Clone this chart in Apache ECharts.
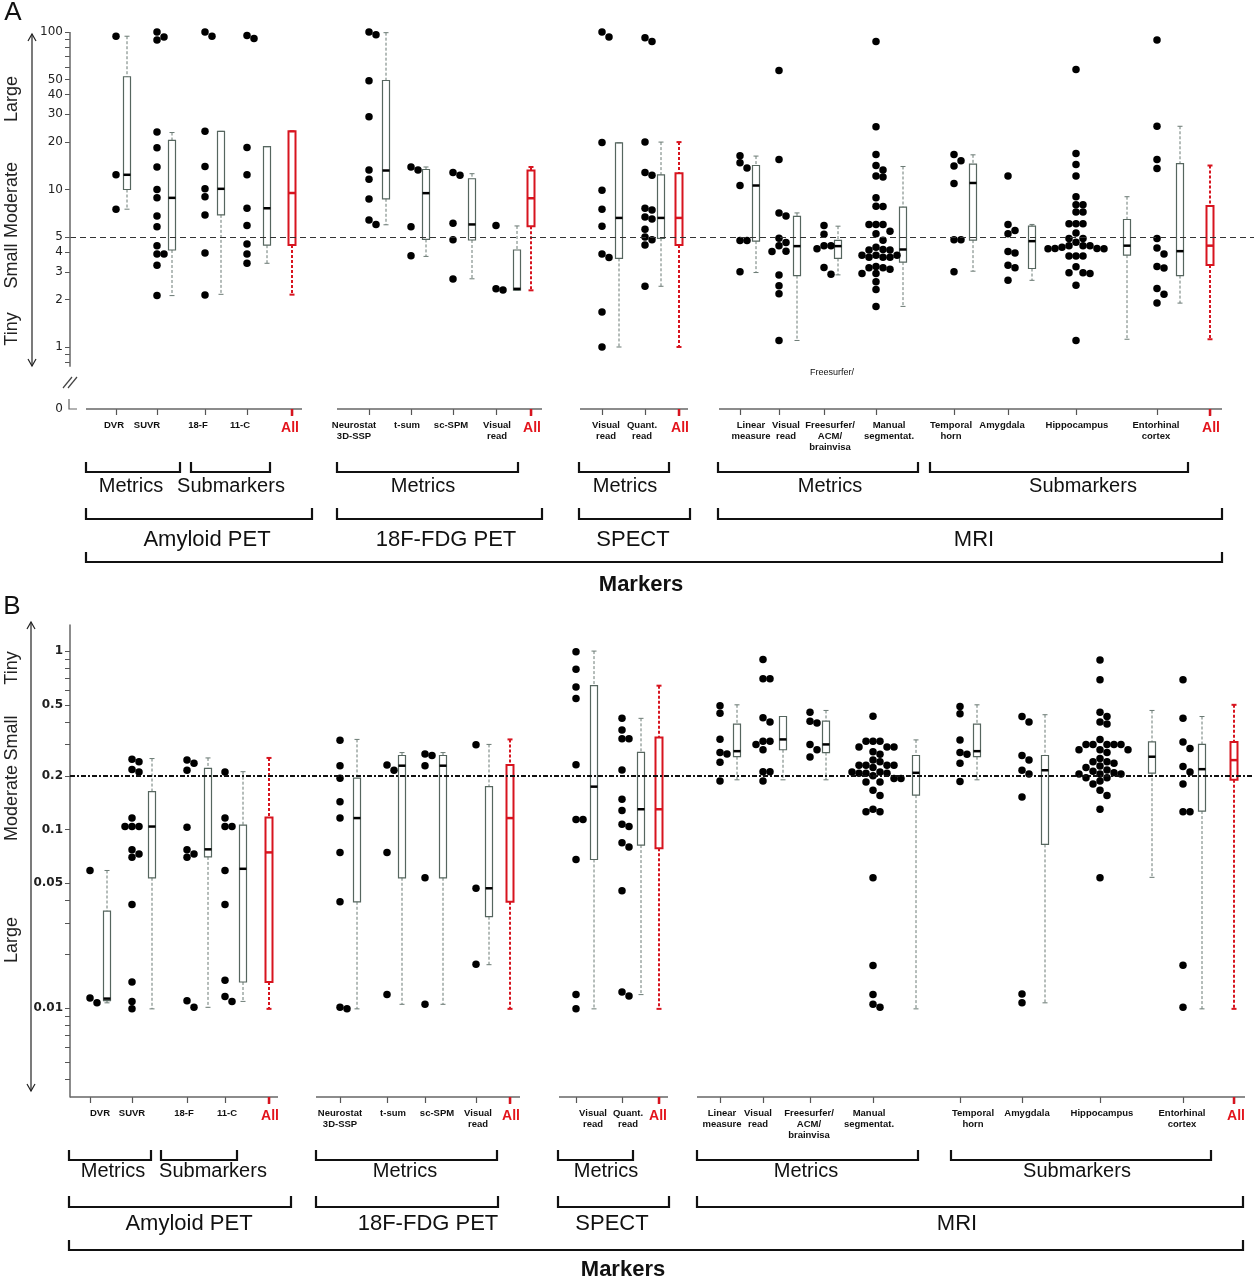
<!DOCTYPE html>
<html><head><meta charset="utf-8">
<script src="https://cdn.jsdelivr.net/npm/echarts@6/dist/echarts.min.js"></script>
<style>html,body{margin:0;padding:0;background:#fff}#c{width:1254px;height:1280px}</style>
</head><body><div id="c"></div>
<script>
// ================= DATA =================
const categories = ['DVR','SUVR','18-F','11-C','All','Neurostat\n3D-SSP','t-sum','sc-SPM','Visual\nread','All',
  'Visual\nread','Quant.\nread','All','Linear\nmeasure','Visual\nread','Freesurfer/\nACM/\nbrainvisa','Manual\nsegmentat.',
  'Temporal\nhorn','Amygdala','Hippocampus','Entorhinal\ncortex','All'];

// Panel A (effect size, log scale) tick labels
const yTickLabelsA = [1,2,3,4,5,10,20,30,40,50,100];
const yMinorTicksA = [0.8,0.9,60,70,80,90];
// Panel B tick labels
const yTickLabelsB = [0.01,0.05,0.1,0.2,0.5,1];
const yMinorTicksB = [0.004,0.005,0.006,0.007,0.008,0.009,0.02,0.03,0.04,0.3,0.4,0.6,0.7,0.8,0.9];

// Panel A individual study values
const dotsA = [
  [94,12.4,7.5],
  [100,93,89,23.2,18.4,13.9,10,8.85,6.8,5.8,4.4,3.9,3.9,3.3,2.12],
  [94,100,23.4,14,10.1,9,6.9,3.95,2.14],
  [91,95,18.5,12.4,7.6,5.9,4.5,3.9,3.4],
  [],
  [96,100,49,29,13.3,11.6,8.7,6.0,6.4],
  [13.3,13.9,5.8,3.8],
  [12.8,12.3,6.1,4.8,2.7],
  [5.9,2.34,2.3],
  [],
  [100,93,19.9,9.9,7.5,5.85,3.7,3.9,1.67,1.0],
  [92,87,20,12.8,12.3,7.4,7.6,6.7,6.5,5.6,4.8,5.0,4.45,2.43],
  [],
  [16.4,13.7,14.8,10.6,4.74,4.74,3.0],
  [57,15.5,6.8,7.1,4.4,4.9,4.6,4.06,4.04,2.87,2.45,2.18,1.1],
  [5.9,5.2,4.2,4.4,4.4,3.2,2.9],
  [87,25,16.7,14.2,13.3,12.0,12.2,8.85,7.84,7.8,6.0,6.0,6.0,5.44,5.23,4.77,4.3,4.16,4.13,4.13,3.83,3.83,3.83,3.72,3.72,3.72,3.25,3.18,3.18,3.12,2.93,2.93,2.6,2.32,1.81],
  [16.7,14.1,15.2,10.9,4.8,4.8,3.0],
  [12.2,6.0,5.5,5.24,4.04,3.95,3.31,3.18,2.65],
  [57.8,16.9,14.4,12.2,9.0,8.0,8.0,7.2,7.2,6.05,6.05,6.05,5.3,4.88,4.88,4.63,4.22,4.3,4.22,4.2,4.2,4.4,4.4,4.4,3.78,3.78,3.78,3.23,2.96,2.96,2.93,2.47,1.1],
  [89,25.2,15.5,13.6,4.88,4.25,3.9,3.17,3.25,2.16,2.35,1.9],
  []
];
// Panel A box stats [whiskerLow, Q1, median, Q3, whiskerHigh]
const boxStatsA = [
  [7.5,10,12.4,52,94],[2.12,4.13,8.85,20.5,23],[2.16,6.9,10.1,23.4,23.4],[3.4,4.43,7.6,18.7,18.7],[2.15,4.45,9.5,23.4,23.4],
  [5.97,8.73,13.2,49.2,99],[3.76,4.82,9.48,13.4,13.9],[2.71,4.78,6.0,11.7,12.6],[2.3,2.3,2.34,4.13,5.87],[2.29,5.84,8.8,13.2,13.9],
  [1.0,3.65,6.6,19.8,19.8],[2.43,4.9,6.6,12.4,20],[1.0,4.45,6.6,12.7,20],
  [2.97,4.7,10.6,14.2,16.3],[1.1,2.84,4.37,6.75,7.1],[2.87,3.65,4.37,4.76,5.85],[1.81,3.46,4.16,7.73,14.0],
  [3.03,4.77,11.0,14.5,16.6],[2.65,3.15,4.7,5.85,6.0],[1.12,3.83,4.4,6.45,9.0],[1.9,2.84,4.06,14.6,25.2],[1.12,3.32,4.4,7.86,14.2]
];

// Panel B individual study values
const dotsB = [
  [0.0107,0.0114,0.059],
  [0.248,0.24,0.217,0.21,0.116,0.104,0.104,0.104,0.073,0.077,0.070,0.038,0.014,0.0109,0.0099],
  [0.215,0.245,0.235,0.103,0.073,0.077,0.07,0.011,0.0101],
  [0.21,0.116,0.104,0.104,0.059,0.038,0.0143,0.0109,0.0116],
  [],
  [0.317,0.228,0.194,0.143,0.116,0.0745,0.0394,0.0101,0.0099],
  [0.23,0.215,0.0745,0.0119],
  [0.26,0.265,0.228,0.0537,0.0105],
  [0.299,0.0469,0.0176],
  [],
  [0.99,0.79,0.63,0.543,0.231,0.114,0.114,0.068,0.0119,0.0099],
  [0.42,0.361,0.323,0.323,0.216,0.148,0.128,0.107,0.104,0.0844,0.08,0.0454,0.0117,0.0123],
  [],
  [0.494,0.448,0.321,0.27,0.265,0.238,0.187],
  [0.898,0.70,0.70,0.423,0.40,0.313,0.313,0.30,0.28,0.211,0.211,0.187],
  [0.455,0.405,0.395,0.30,0.28,0.255],
  [0.432,0.313,0.313,0.313,0.29,0.29,0.29,0.273,0.264,0.245,0.24,0.229,0.229,0.229,0.229,0.223,0.21,0.21,0.207,0.207,0.207,0.2,0.193,0.193,0.185,0.185,0.166,0.155,0.13,0.126,0.126,0.0537,0.0173,0.0119,0.0105,0.0101],
  [0.49,0.445,0.318,0.27,0.264,0.235,0.186],
  [0.43,0.40,0.26,0.245,0.215,0.205,0.152,0.012,0.0107],
  [0.89,0.69,0.455,0.43,0.40,0.39,0.32,0.30,0.30,0.30,0.30,0.30,0.28,0.28,0.28,0.27,0.25,0.24,0.24,0.235,0.227,0.223,0.216,0.212,0.208,0.205,0.205,0.205,0.195,0.195,0.187,0.18,0.166,0.155,0.13,0.0537],
  [0.69,0.42,0.31,0.285,0.226,0.21,0.18,0.126,0.126,0.0174,0.0101],
  []
];
const boxStatsB = [
  [0.0107,0.011,0.0113,0.0349,0.059],[0.0099,0.0537,0.104,0.163,0.25],[0.0101,0.0703,0.0775,0.22,0.252],[0.0109,0.014,0.0603,0.106,0.211],[0.0099,0.014,0.0745,0.117,0.252],
  [0.0099,0.0394,0.116,0.194,0.32],[0.0105,0.0537,0.228,0.26,0.27],[0.0105,0.0537,0.228,0.26,0.27],[0.0175,0.0325,0.0469,0.174,0.30],[0.0099,0.0394,0.116,0.23,0.32],
  [0.0099,0.068,0.174,0.64,1.0],[0.0119,0.0819,0.13,0.271,0.42],[0.0099,0.0785,0.13,0.328,0.64],
  [0.19,0.256,0.275,0.39,0.5],[0.19,0.28,0.32,0.43,0.43],[0.19,0.27,0.30,0.405,0.465],[0.0099,0.156,0.208,0.26,0.318],
  [0.19,0.256,0.275,0.39,0.5],[0.0107,0.0826,0.215,0.26,0.44],[0.054,0.207,0.256,0.31,0.465],[0.0099,0.127,0.218,0.30,0.43],[0.0099,0.19,0.245,0.31,0.5]
];

// Reference thresholds
const thresholdA = 5;
const thresholdB = 0.2;

// ================= LAYOUT =================
const FONT = '"Liberation Sans", Arial, sans-serif';
const layoutA = {
  grid: {top: 32, height: 377}, yTop: 100, decadePx: 157.5,
  tickX:  [116,157,205,247,292, 369,411,453,496,531, 602,645,679, 740,779,824,876,954,1008,1076,1157,1210],
  labelX: [114,147,198,240,290, 354,407,451,497,532, 606,642,680, 751,786,830,889,951,1002,1077,1156,1211],
  boxX:   [127,172,221,267,292, 386,426,472,517,531, 619,661,679, 756,797,838,903,973,1032,1127,1180,1210],
  axisSegs: [[86,302],[337,542],[580,688],[719,1222]]
};
const layoutB = {
  grid: {top: 625, height: 472}, yTop: 1.4, decadePx: 178.5,
  tickX:  [90,132,187,225,269, 340,387,425,476,510, 576,622,659, 720,763,810,873,960,1022,1100,1183,1234],
  labelX: [100,132,184,227,270, 340,393,437,478,511, 593,628,658, 722,758,809,869,973,1027,1102,1182,1236],
  boxX:   [107,152,208,243,269, 357,402,443,489,510, 594,641,659, 737,783,826,916,977,1045,1152,1202,1234],
  axisSegs: [[70,278],[316,520],[559,668],[697,1245]]
};
[layoutA, layoutB].forEach(L => {
  L.yMax = Math.log10(L.yTop);
  L.yMin = L.yMax - L.grid.height / L.decadePx;
});

const isAll = categories.map(c => c === 'All');

function swarm(vals, cx, pxPerUnit) {
  const D = 7, STEP = 7;
  const logs = vals.map(v => Math.log10(v));
  const idx = logs.map((_, i) => i).sort((a, b) => logs[b] - logs[a]);
  const placed = [], out = [];
  idx.forEach(i => {
    const y = logs[i] * pxPerUnit;
    for (let k = 0; k < 60; k++) {
      const off = k === 0 ? 0 : (k % 2 ? (k + 1) / 2 : -k / 2) * STEP;
      if (placed.every(p => Math.hypot(p[0] - off, p[1] - y) >= D)) {
        placed.push([off, y]); out.push([cx + off, logs[i]]); break;
      }
    }
  });
  return out;
}

function nearestIdx(arr, v) {
  let bi = 0;
  arr.forEach((a, i) => { if (Math.abs(a - v) < Math.abs(arr[bi] - v)) bi = i; });
  return bi;
}

function mkX(gi, L) {
  return {
    type: 'value', gridIndex: gi, min: 70, max: 1254,
    axisLine: {show: false, onZero: false}, splitLine: {show: false},
    axisTick: {show: true, customValues: L.tickX, length: 6, lineStyle: {color: '#555', width: 1.2}},
    axisLabel: {
      show: true, customValues: L.labelX, margin: 11, hideOverlap: false,
      fontFamily: FONT, fontSize: 9.5, fontWeight: 'bold', color: '#111', lineHeight: 11,
      formatter: v => { const t = categories[nearestIdx(L.labelX, v)]; return t === 'All' ? '{all|All}' : t; },
      rich: {all: {color: '#e3141c', fontSize: 14, fontWeight: 'bold', fontFamily: FONT, lineHeight: 16}}
    }
  };
}

function mkY(gi, L, labels, minors, opts) {
  const labelVals = labels.map(Math.log10);
  return {
    type: 'value', gridIndex: gi, min: L.yMin, max: L.yMax,
    axisLine: {show: opts.line, onZero: false, lineStyle: {color: '#666', width: 1.5}},
    splitLine: {show: false},
    axisTick: {show: true, customValues: labels.concat(minors).map(Math.log10), length: 5, lineStyle: {color: '#555', width: 1}},
    axisLabel: {
      show: true, customValues: opts.zero ? [L.yMin].concat(labelVals) : labelVals, margin: 7,
      fontFamily: '"DejaVu Sans", Verdana, sans-serif', fontSize: 12, fontWeight: opts.bold ? 'bold' : 'normal', color: '#222',
      formatter: v => (opts.zero && Math.abs(v - L.yMin) < 1e-9) ? '0' : String(labels[nearestIdx(labelVals, v)])
    }
  };
}

function renderBox(params, api) {
  const x = api.value(0);
  const all = api.value(6) === 1;
  const pLo = api.coord([x, api.value(1)]);
  const pQ1 = api.coord([x, api.value(2)]);
  const pMed = api.coord([x, api.value(3)]);
  const pQ3 = api.coord([x, api.value(4)]);
  const pHi = api.coord([x, api.value(5)]);
  const cx = pLo[0], w = 7;
  const col = all ? '#d7141f' : '#56665f';
  const wcol = all ? '#d7141f' : '#6b7a74';
  const lw = all ? 2 : 1;
  return {
    type: 'group',
    children: [
      {type: 'line', shape: {x1: cx, y1: pHi[1], x2: cx, y2: pQ3[1]}, style: {stroke: wcol, lineWidth: lw, lineDash: [3, 2]}},
      {type: 'line', shape: {x1: cx, y1: pQ1[1], x2: cx, y2: pLo[1]}, style: {stroke: wcol, lineWidth: lw, lineDash: [3, 2]}},
      {type: 'line', shape: {x1: cx - 2.5, y1: pHi[1], x2: cx + 2.5, y2: pHi[1]}, style: {stroke: wcol, lineWidth: lw}},
      {type: 'line', shape: {x1: cx - 2.5, y1: pLo[1], x2: cx + 2.5, y2: pLo[1]}, style: {stroke: wcol, lineWidth: lw}},
      {type: 'rect', shape: {x: cx - w / 2, y: pQ3[1], width: w, height: pQ1[1] - pQ3[1]}, style: {fill: 'rgba(0,0,0,0)', stroke: col, lineWidth: all ? 2 : 1.2}},
      {type: 'line', shape: {x1: cx - w / 2, y1: pMed[1], x2: cx + w / 2, y2: pMed[1]}, style: {stroke: all ? '#d7141f' : '#000', lineWidth: 2.5}}
    ]
  };
}

function panelSeries(gi, L, dots, stats, thr, lineStyle) {
  const scatterData = [];
  dots.forEach((vals, i) => swarm(vals, L.tickX[i], L.decadePx).forEach(p => scatterData.push(p)));
  const boxData = stats.map((s, i) => [L.boxX[i]].concat(s.map(Math.log10)).concat([isAll[i] ? 1 : 0]));
  return [
    {
      type: 'custom', xAxisIndex: gi, yAxisIndex: gi, silent: true, renderItem: renderBox,
      encode: {x: 0, y: [1, 2, 3, 4, 5]}, data: boxData, z: 3
    },
    {
      type: 'scatter', xAxisIndex: gi, yAxisIndex: gi, silent: true, symbol: 'circle', symbolSize: 7.5,
      itemStyle: {color: '#000', opacity: 1}, data: scatterData, z: 4,
      markLine: {silent: true, symbol: ['none', 'none'], label: {show: false}, lineStyle: lineStyle, data: [{yAxis: Math.log10(thr)}]}
    }
  ];
}

const chart = echarts.init(document.getElementById('c'), null, {renderer: 'canvas'});
const option = {
  animation: false,
  backgroundColor: '#fff',
  grid: [
    {left: 70, width: 1184, top: layoutA.grid.top, height: layoutA.grid.height, outerBoundsMode: 'none'},
    {left: 70, width: 1184, top: layoutB.grid.top, height: layoutB.grid.height, outerBoundsMode: 'none'}
  ],
  xAxis: [mkX(0, layoutA), mkX(1, layoutB)],
  yAxis: [
    mkY(0, layoutA, yTickLabelsA, yMinorTicksA, {line: false, zero: true, bold: false}),
    mkY(1, layoutB, yTickLabelsB, yMinorTicksB, {line: true, zero: false, bold: true})
  ],
  series: [].concat(
    panelSeries(0, layoutA, dotsA, boxStatsA, thresholdA, {color: '#333', type: [6, 4], width: 1.2}),
    panelSeries(1, layoutB, dotsB, boxStatsB, thresholdB, {color: '#111', type: [5, 2, 2, 2], width: 2})
  )
};
chart.setOption(option);

// ================= ANNOTATIONS =================
const P = (gi, x, v) => chart.convertToPixel({gridIndex: gi}, [x, v]);
const g = [];
const line = (x1, y1, x2, y2, stroke, w) => g.push({type: 'line', silent: true, z: 10, shape: {x1, y1, x2, y2}, style: {stroke, lineWidth: w}});
const poly = (pts, stroke, w) => g.push({type: 'polyline', silent: true, z: 10, shape: {points: pts}, style: {stroke, lineWidth: w, fill: null}});
const text = (t, x, y, font, fill, rot) => g.push({type: 'text', silent: true, z: 10, x, y, rotation: rot || 0,
  style: {text: t, font, fill: fill || '#111', align: 'center', verticalAlign: 'middle', textAlign: 'center', textVerticalAlign: 'middle'}});

// Panel letters
text('A', 13, 13, '26px ' + FONT, '#111');
text('B', 12, 607, '26px ' + FONT, '#111');

// Panel A y-axis line, break and zero
const aTop = P(0, 70, Math.log10(100)), aBot = P(0, 70, Math.log10(0.75)), aZero = P(0, 70, layoutA.yMin);
line(aTop[0], aTop[1], aBot[0], aBot[1], '#666', 1.5);
line(63, 388, 72, 377, '#444', 1.2);
line(68, 388, 77, 377, '#444', 1.2);
poly([[69, aZero[1] - 10], [69, aZero[1]], [77, aZero[1]]], '#666', 1.2);

// X-axis segments and red "All" ticks
[[0, layoutA], [1, layoutB]].forEach(([gi, L]) => {
  const y0 = P(gi, 70, L.yMin)[1];
  L.axisSegs.forEach(s => line(s[0], y0, s[1], y0, '#666', 1.5));
  L.tickX.forEach((x, i) => { if (isAll[i]) { const px = P(gi, x, L.yMin)[0]; line(px, y0, px, y0 + 7, '#d7141f', 2.5); } });
});

// Side arrows and magnitude labels
function arrow(x, y1, y2) {
  line(x, y1, x, y2, '#222', 1.2);
  poly([[x - 4, y1 + 7], [x, y1], [x + 4, y1 + 7]], '#222', 1.2);
  poly([[x - 4, y2 - 7], [x, y2], [x + 4, y2 - 7]], '#222', 1.2);
}
arrow(32, 34, 366);
arrow(31, 622, 1091);
const sideFont = '18px ' + FONT;
[['Large', 99], ['Moderate', 200], ['Small', 266], ['Tiny', 329]].forEach(([t, y]) => text(t, 12, y, sideFont, '#222', Math.PI / 2));
[['Tiny', 668], ['Small', 738], ['Moderate', 803], ['Large', 940]].forEach(([t, y]) => text(t, 12, y, sideFont, '#222', Math.PI / 2));

// Stray label in panel A
text('Freesurfer/', 832, 373, '9px ' + FONT, '#111');

// Brackets
function bracket(x1, x2, yTop, yBot) { poly([[x1, yTop], [x1, yBot], [x2, yBot], [x2, yTop]], '#111', 2.2); }
const f20 = '20px ' + FONT, f22 = '22px ' + FONT, fB = 'bold 22px ' + FONT;
// Panel A
[[86,180],[191,270],[337,518],[579,669],[718,918],[930,1188]].forEach(b => bracket(b[0], b[1], 462, 472));
[['Metrics',131],['Submarkers',231],['Metrics',423],['Metrics',625],['Metrics',830],['Submarkers',1083]].forEach(([t,x]) => text(t, x, 486, f20));
[[86,312],[337,542],[579,690],[718,1222]].forEach(b => bracket(b[0], b[1], 508, 519));
[['Amyloid PET',207],['18F-FDG PET',446],['SPECT',633],['MRI',974]].forEach(([t,x]) => text(t, x, 540, f22));
bracket(86, 1222, 552, 562);
text('Markers', 641, 585, fB);
// Panel B
[[69,151],[161,237],[316,497],[558,633],[697,918],[951,1211]].forEach(b => bracket(b[0], b[1], 1150, 1160));
[['Metrics',113],['Submarkers',213],['Metrics',405],['Metrics',606],['Metrics',806],['Submarkers',1077]].forEach(([t,x]) => text(t, x, 1171, f20));
[[69,291],[316,498],[558,669],[697,1243]].forEach(b => bracket(b[0], b[1], 1196, 1207));
[['Amyloid PET',189],['18F-FDG PET',428],['SPECT',612],['MRI',957]].forEach(([t,x]) => text(t, x, 1224, f22));
bracket(69, 1243, 1240, 1250);
text('Markers', 623, 1270, fB);

chart.setOption({graphic: {elements: g}});
</script>
</body></html>
